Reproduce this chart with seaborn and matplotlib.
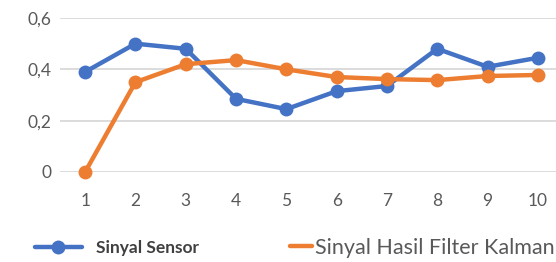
import pandas as pd
import seaborn as sns
import matplotlib.pyplot as plt
from matplotlib.lines import Line2D

# --- Data ---
steps = [1, 2, 3, 4, 5, 6, 7, 8, 9, 10]
sensor = [0.39, 0.50, 0.48, 0.285, 0.245, 0.315, 0.335, 0.48, 0.41, 0.445]
kalman = [0.0, 0.35, 0.42, 0.436, 0.40, 0.37, 0.362, 0.358, 0.374, 0.378]
labels = ["Sinyal Sensor", "Sinyal Hasil Filter Kalman"]
y_ticks = [0, 0.2, 0.4, 0.6]
y_tick_labels = ["0", "0,2", "0,4", "0,6"]
colors = ["#4472C4", "#ED7D31"]

df = pd.DataFrame({
    "step": steps * 2,
    "value": sensor + kalman,
    "series": [labels[0]] * len(steps) + [labels[1]] * len(steps),
})

sns.set_style("white")
plt.rcParams["font.family"] = ["Lato", "DejaVu Sans"]

fig = plt.figure(figsize=(5.56, 2.62), dpi=100)
# axes runs past the right edge: the reference is cropped there
ax = fig.add_axes([60 / 556, 90 / 262, 503 / 556, 154 / 262])

sns.lineplot(
    data=df, x="step", y="value", hue="series",
    palette=colors,
    marker="o", markersize=10, markeredgewidth=0,
    linewidth=3.2, ax=ax, legend=False, clip_on=False,
)

ax.set_xlim(0.5, 10.5)
ax.set_ylim(0, 0.6)
ax.set_xticks(steps)
ax.set_yticks(y_ticks)
ax.set_yticklabels(y_tick_labels)
ax.yaxis.grid(True, color="#D9D9D9", linewidth=1.3)
ax.set_axisbelow(True)
for s in ax.spines.values():
    s.set_visible(False)
ax.tick_params(axis="both", length=0, labelsize=12.5, labelcolor="#595959")
ax.tick_params(axis="y", pad=6)
ax.tick_params(axis="x", pad=15)
ax.set_xlabel("")
ax.set_ylabel("")

# --- Legend below the plot (two pieces, the second one is cut by the crop) ---
lines = ax.get_lines()
leg1 = fig.legend(
    [lines[0]], [labels[0]], loc="center left",
    bbox_to_anchor=(28 / 556, 14 / 262), frameon=False,
    fontsize=12.5, handlelength=2.7, handletextpad=0.8, borderaxespad=0,
)
leg1.get_texts()[0].set_color("#404040")
leg1.get_texts()[0].set_fontweight("bold")

orange_proxy = Line2D([], [], color=colors[1], linewidth=3.2)
leg2 = fig.legend(
    [orange_proxy], [labels[1]], loc="center left",
    bbox_to_anchor=(281 / 556, 14 / 262), frameon=False,
    fontsize=15.5, handlelength=1.05, handletextpad=0.12, borderaxespad=0,
)
leg2.get_texts()[0].set_color("#595959")

fig.savefig("out.png", dpi=100)
